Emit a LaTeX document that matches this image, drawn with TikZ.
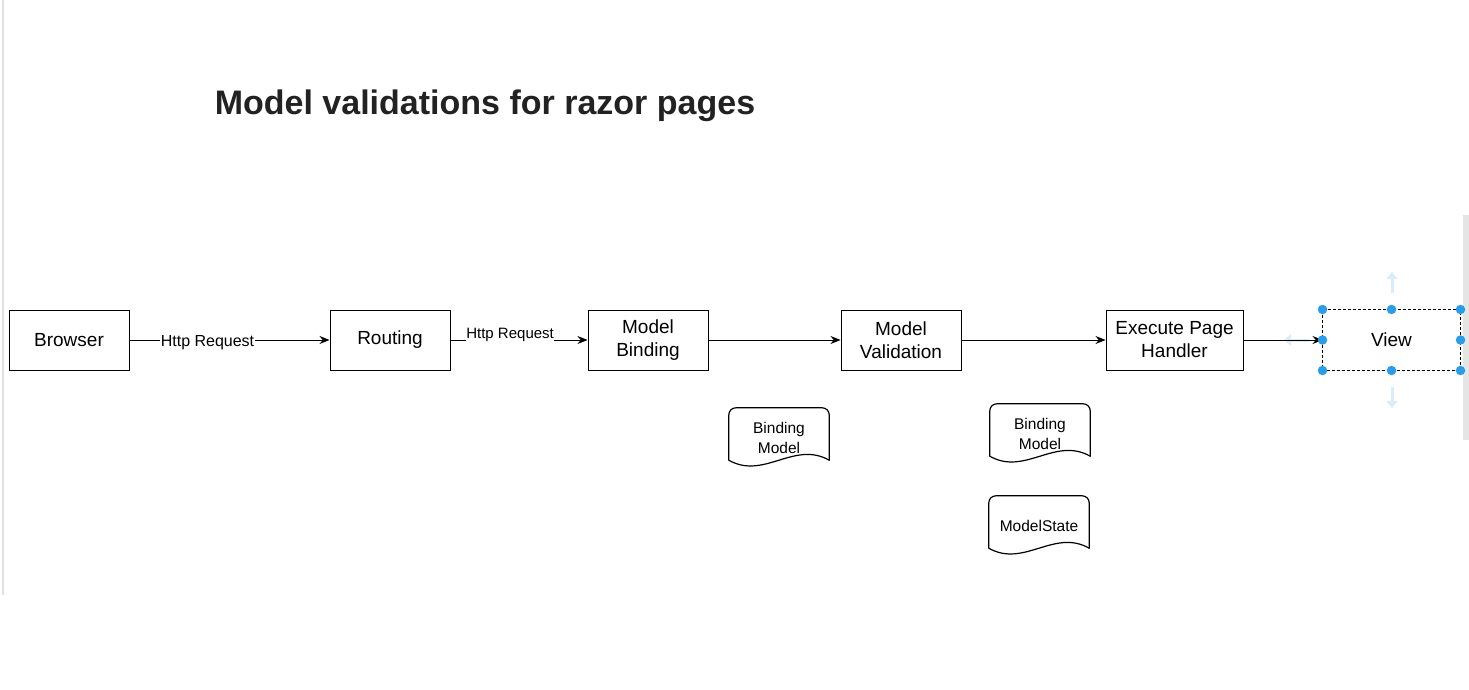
\documentclass[tikz,border=0pt]{standalone}
\usepackage{fontspec}
\setmainfont{Liberation Sans}
\usetikzlibrary{arrows.meta,calc}

\definecolor{handle}{HTML}{2A9DE8}
\definecolor{hint}{HTML}{D8ECF9}
\definecolor{titlegray}{HTML}{222222}

\tikzset{
  stepbox/.style={draw, line width=1pt, minimum width=120pt, minimum height=60pt,
    inner sep=0pt, align=center, font=\fontsize{19}{23}\selectfont},
  docbox/.style={minimum width=100pt, minimum height=52pt, inner sep=0pt},
  doctext/.style={align=center, inner sep=0pt, font=\fontsize{15.5}{20}\selectfont},
  flow/.style={draw, line width=1pt, -{Stealth[length=10pt,width=8pt]}},
  edgelabel/.style={fill=white, inner sep=0.5pt, font=\fontsize{16}{18}\selectfont},
  docline/.style={line width=1.2pt, line cap=round},
  grip/.style={circle, fill=handle, inner sep=0pt, minimum size=9.5pt},
}

% document symbol: rounded top, wavy bottom
\newcommand{\docoutline}[1]{%
  \draw[docline, rounded corners=7pt] (#1.south west) -- (#1.north west)
    -- (#1.north east) -- (#1.south east);
  \draw[docline] (#1.south east)
    .. controls ($(#1.south east)+(-35,-20)$) and ($(#1.south west)+(35,20)$)
    .. (#1.south west);
}

\begin{document}
\begin{tikzpicture}[x=1pt,y=-1pt]
  \useasboundingbox (0,0) rectangle (1469,690);
  \fill[white] (0,0) rectangle (1469,690);

  % window edges
  \draw[black!12, line width=2pt] (3,0) -- (3,595);
  \fill[black!10] (1463,215) rectangle (1469,440);

  % title
  \node[font=\bfseries\fontsize{34}{38}\selectfont, text=titlegray] (title) at (485,106)
    {Model validations for razor pages};

  % main pipeline
  \node[stepbox] (browser) at (69,340) {Browser};
  \node[stepbox] (routing) at (390,340) {Routing};
  \node[stepbox] (binding) at (648,340) {Model\\Binding};
  \node[stepbox] (validation) at (901,340) {Model\\Validation};
  \node[stepbox, minimum width=137pt] (handler) at (1174.5,340) {Execute Page\\Handler};
  \node[stepbox, minimum width=137pt, draw=none] (view) at (1391.5,340) {View};

  % hover hints around the selected node
  \draw[hint, line width=3pt, -{Triangle[length=7pt,width=11pt]}] (1392,293) -- (1392,272);
  \draw[hint, line width=3pt, -{Triangle[length=7pt,width=11pt]}] (1392,387) -- (1392,408);
  \draw[hint, line width=3pt, -{Triangle[length=7pt,width=11pt]}] (1310,340) -- (1284,340);

  % connectors
  \draw[flow] (browser) -- node[edgelabel, pos=0.39, yshift=-3pt] (lbl1) {Http Request} (routing);
  \draw[flow] (routing) -- node[edgelabel, pos=0.435, yshift=5pt,
    font=\fontsize{15}{17}\selectfont] (lbl2) {Http Request} (binding);
  \draw[flow] (binding) -- (validation);
  \draw[flow] (validation) -- (handler);
  \draw[flow] (handler) -- (view);

  % selected node: dashed outline and grips
  \draw[line width=1pt, dash pattern=on 3pt off 2pt]
    (view.north west) rectangle (view.south east);
  \foreach \a in {north west,north,north east,west,east,south west,south,south east}
    \node[grip] at (view.\a) {};

  % data documents
  \node[docbox] (bm1) at (779,434) {};
  \docoutline{bm1}
  \node[doctext] (bm1t) at ([yshift=-4pt]bm1.center) {Binding\\Model};
  \node[docbox] (bm2) at (1040,430) {};
  \docoutline{bm2}
  \node[doctext] (bm2t) at ([yshift=-4pt]bm2.center) {Binding\\Model};
  \node[docbox] (ms) at (1039,522) {};
  \docoutline{ms}
  \node[doctext] (mst) at ([yshift=-4pt]ms.center) {ModelState};
\end{tikzpicture}
\end{document}
